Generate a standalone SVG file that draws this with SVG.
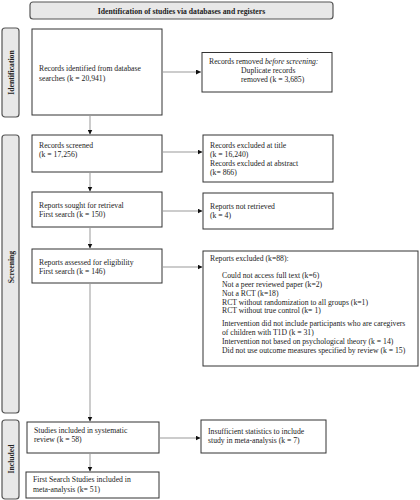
<svg xmlns="http://www.w3.org/2000/svg" width="420" height="500" viewBox="0 0 420 500">
<style>
text{font-family:"Liberation Serif","Times New Roman",serif;font-size:7.7px;fill:#222}
.b{font-weight:bold}
.box{fill:#fff;stroke:#333;stroke-width:1}
.side{fill:#e8e8e8;stroke:#555;stroke-width:1.2}
.con{stroke:#999;stroke-width:1;fill:none;marker-end:url(#ah)}
</style>
<defs>
<marker id="ah" viewBox="0 0 10 10" refX="10" refY="5" markerWidth="5" markerHeight="5" orient="auto" markerUnits="userSpaceOnUse">
<path d="M0,0L10,5L0,10z" fill="#111"/>
</marker>
</defs>
<g id="header"><rect x="30" y="2" width="303" height="17" rx="3" class="side"/><text x="181.5" y="13.5" text-anchor="middle" class="b">Identification of studies via databases and registers</text></g>
<g id="side-identification"><rect x="2" y="28" width="17" height="89" rx="3" class="side"/><text transform="translate(13.5,72.5) rotate(-90)" text-anchor="middle" class="b">Identification</text></g>
<g id="side-screening"><rect x="2" y="135" width="17" height="278" rx="3" class="side"/><text transform="translate(13.5,267) rotate(-90)" text-anchor="middle" class="b">Screening</text></g>
<g id="side-included"><rect x="2" y="420" width="17" height="79" rx="3" class="side"/><text transform="translate(13.5,459) rotate(-90)" text-anchor="middle" class="b">Included</text></g>
<g id="n1"><rect x="32" y="29" width="130" height="86" class="box"/><text x="39" y="71">Records identified from database</text><text x="39" y="80.5">searches (k = 20,941)</text></g>
<g id="n2"><rect x="202" y="52.5" width="130" height="39.5" class="box"/><text x="209" y="63.5">Records removed <tspan font-style="italic">before screening:</tspan></text><text x="241" y="73">Duplicate records</text><text x="241" y="82">removed (k = 3,685)</text></g>
<g id="n3"><rect x="32" y="135" width="130" height="37" class="box"/><text x="39" y="148">Records screened</text><text x="39" y="157">(k = 17,256)</text></g>
<g id="n4"><rect x="203" y="135" width="130" height="47" class="box"/><text x="210" y="148">Records excluded at title</text><text x="210" y="157">(k = 16,240)</text><text x="210" y="166">Records excluded at abstract</text><text x="210" y="175">(k= 866)</text></g>
<g id="n5"><rect x="32" y="192" width="130" height="35" class="box"/><text x="39" y="208">Reports sought for retrieval</text><text x="39" y="217">First search (k = 150)</text></g>
<g id="n6"><rect x="203" y="193" width="130" height="36" class="box"/><text x="210" y="209">Reports not retrieved</text><text x="210" y="218"> (k = 4)</text></g>
<g id="n7"><rect x="32" y="249" width="130" height="34" class="box"/><text x="39" y="265">Reports assessed for eligibility</text><text x="39" y="274">First search (k = 146)</text></g>
<g id="n8"><rect x="203" y="251" width="215" height="115" class="box"/><text x="210" y="261">Reports excluded (k=88):</text>
<text x="222" y="278">Could not access full text (k=6)</text>
<text x="222" y="287">Not a peer reviewed paper (k=2)</text>
<text x="222" y="295.5">Not a RCT (k=18)</text>
<text x="222" y="304.5">RCT without randomization to all groups (k=1)</text>
<text x="222" y="313">RCT without true control (k= 1)</text>
<text x="222" y="326">Intervention did not include participants who are caregivers</text>
<text x="222" y="335">of children with T1D (k = 31)</text>
<text x="222" y="344">Intervention not based on psychological theory (k = 14)</text>
<text x="222" y="353">Did not use outcome measures specified by review (k = 15)</text></g>
<g id="n9"><rect x="27" y="422" width="132" height="31" class="box"/><text x="34" y="432.5">Studies included in systematic</text><text x="34" y="442">review (k = 58)</text></g>
<g id="n10"><rect x="201" y="420" width="125" height="33" class="box"/><text x="208" y="434">Insufficient statistics to include</text><text x="208" y="443">study in meta-analysis (k = 7)</text></g>
<g id="n11"><rect x="26" y="472" width="133" height="26" class="box"/><text x="33" y="482">First Search Studies included in</text><text x="33" y="492">meta-analysis (k= 51)</text></g>
<g id="connectors">
<path d="M162,72H201" class="con"/>
<path d="M90,115V134.5" class="con"/>
<path d="M162,152H202.5" class="con"/>
<path d="M90,172V191.5" class="con"/>
<path d="M162,211H202.5" class="con"/>
<path d="M90,227V248.5" class="con"/>
<path d="M162,267H202.5" class="con"/>
<path d="M90,283V421.5" class="con"/>
<path d="M159,438H200.5" class="con"/>
<path d="M90,453V471.5" class="con"/>
</g>
</svg>
